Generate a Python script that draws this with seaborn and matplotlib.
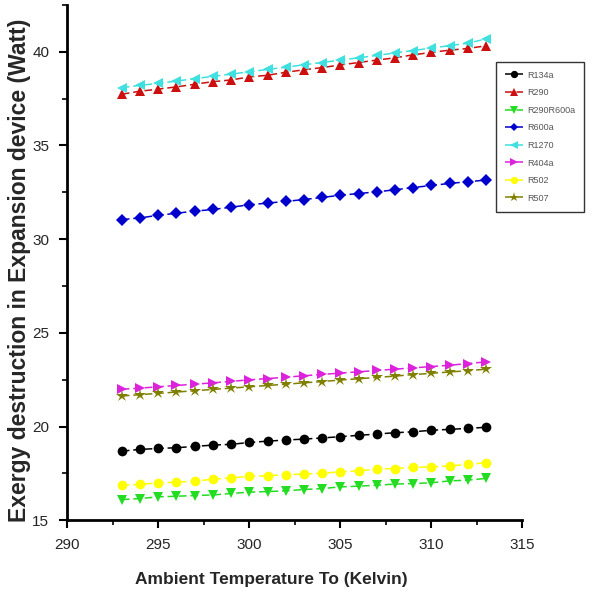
import pandas as pd
import matplotlib.pyplot as plt
import seaborn as sns
from matplotlib.ticker import MultipleLocator

temps = list(range(293, 314))

r134a = [18.69, 18.78, 18.83, 18.87, 18.94, 19.01, 19.05, 19.15, 19.22, 19.28, 19.33,
         19.39, 19.46, 19.53, 19.60, 19.67, 19.72, 19.80, 19.85, 19.90, 19.96]
r290 = [37.73, 37.89, 38.00, 38.12, 38.26, 38.40, 38.49, 38.65, 38.74, 38.90, 39.03,
        39.15, 39.29, 39.42, 39.55, 39.67, 39.83, 39.96, 40.08, 40.17, 40.31]
r290r600a = [16.10, 16.16, 16.25, 16.28, 16.32, 16.35, 16.43, 16.50, 16.53, 16.57, 16.64,
             16.69, 16.78, 16.82, 16.87, 16.93, 16.96, 17.00, 17.10, 17.14, 17.23]
r600a = [31.04, 31.13, 31.27, 31.38, 31.49, 31.58, 31.70, 31.83, 31.92, 32.01, 32.11,
         32.22, 32.34, 32.43, 32.52, 32.63, 32.75, 32.86, 32.97, 33.06, 33.15]
r1270 = [38.08, 38.20, 38.31, 38.43, 38.56, 38.68, 38.80, 38.93, 39.05, 39.17, 39.30,
         39.42, 39.55, 39.67, 39.80, 39.93, 40.06, 40.19, 40.32, 40.45, 40.68]
r404a = [21.99, 22.05, 22.12, 22.19, 22.26, 22.33, 22.41, 22.49, 22.56, 22.63, 22.71,
         22.78, 22.85, 22.92, 22.99, 23.06, 23.13, 23.20, 23.27, 23.36, 23.45]
r502 = [16.87, 16.91, 17.00, 17.03, 17.09, 17.19, 17.26, 17.34, 17.37, 17.44, 17.46,
        17.51, 17.58, 17.64, 17.73, 17.76, 17.82, 17.85, 17.90, 17.98, 18.07]
r507 = [21.63, 21.70, 21.77, 21.84, 21.91, 21.98, 22.05, 22.12, 22.19, 22.26, 22.33,
        22.40, 22.48, 22.55, 22.62, 22.69, 22.77, 22.84, 22.91, 22.98, 23.06]

refrigerants = ['R134a', 'R290', 'R290R600a', 'R600a', 'R1270', 'R404a', 'R502', 'R507']
series = [r134a, r290, r290r600a, r600a, r1270, r404a, r502, r507]

cores = {'R134a': '#000000', 'R290': '#cc1010', 'R290R600a': '#22dd22', 'R600a': '#0000cc',
         'R1270': '#40e0e0', 'R404a': '#dd22dd', 'R502': '#ffff00', 'R507': '#808000'}
marcadores = {'R134a': 'o', 'R290': '^', 'R290R600a': 'v', 'R600a': 'D',
              'R1270': '<', 'R404a': '>', 'R502': 'o', 'R507': '*'}

df = pd.concat([pd.DataFrame({'T': temps, 'Ex': v, 'ref': r}) for r, v in zip(refrigerants, series)])

sns.set_theme(style="white")
plt.rcParams['font.family'] = ['Liberation Sans', 'DejaVu Sans']

fig = plt.figure(figsize=(5.95, 5.98), dpi=100)
ax = fig.add_axes([0.113, 0.130, 0.765, 0.862])

for ref in refrigerants:
    dados = df[df['ref'] == ref]
    ms = 9 if marcadores[ref] == '*' else (6 if marcadores[ref] == 'D' else 7)
    sns.lineplot(data=dados, x='T', y='Ex', ax=ax, color=cores[ref], marker=marcadores[ref],
                 markersize=ms, markeredgewidth=0, linewidth=1.1, dashes=False, label=ref)
    ax.lines[-1].set_linestyle((0, (5, 2.5)))

ax.set_xlim(290, 315)
ax.set_ylim(15, 42.5)
ax.xaxis.set_major_locator(MultipleLocator(5))
ax.xaxis.set_minor_locator(MultipleLocator(2.5))
ax.yaxis.set_major_locator(MultipleLocator(5))
ax.yaxis.set_minor_locator(MultipleLocator(2.5))
ax.tick_params(which='major', direction='out', length=6, width=1.5, labelsize=11, color='black',
               bottom=True, left=True, pad=7)
ax.tick_params(which='minor', direction='out', length=3.5, width=1.2, color='black', bottom=True, left=True)
for lado in ['top', 'right']:
    ax.spines[lado].set_visible(False)
for lado in ['left', 'bottom']:
    ax.spines[lado].set_linewidth(2)
    ax.spines[lado].set_color('black')

ax.set_xlabel('Ambient Temperature To (Kelvin)', fontsize=12.5, fontweight='bold')
ax.xaxis.set_label_coords(0.448, -0.1)
ax.set_ylabel('Exergy destruction in Expansion device (Watt)', fontsize=16.5, fontweight='bold')
ax.yaxis.set_label_coords(-0.08, 0.485)

handles, labels = ax.get_legend_handles_labels()
ax.get_legend().remove()
leg = fig.legend(handles, labels, loc='upper left', bbox_to_anchor=(0.834, 0.897),
                 fontsize=6.5, frameon=True, fancybox=False, edgecolor='black', markerscale=0.75,
                 handlelength=2.0, labelspacing=0.95, borderpad=1.0, handletextpad=0.4,
                 borderaxespad=0)
leg.get_frame().set_linewidth(1.0)
for t in leg.get_texts():
    t.set_color('#555555')

plt.savefig('out.png', dpi=100)
plt.close()
